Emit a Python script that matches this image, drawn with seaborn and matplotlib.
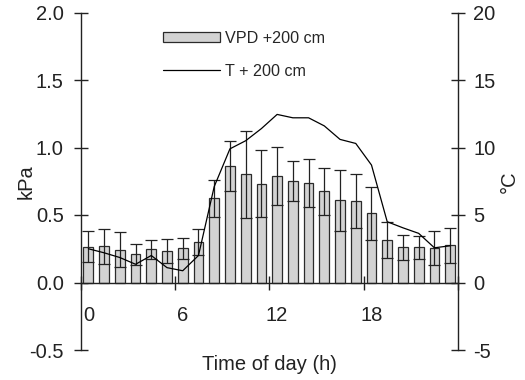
import numpy as np
import matplotlib
matplotlib.use("Agg")
import matplotlib.pyplot as plt
import seaborn as sns
from matplotlib.ticker import FixedLocator

# ---- data ----
hours = list(range(24))
vpd = [0.265, 0.27, 0.243, 0.21, 0.245, 0.233, 0.252, 0.30, 0.624, 0.861,
       0.802, 0.733, 0.79, 0.752, 0.738, 0.676, 0.609, 0.604, 0.512, 0.312,
       0.26, 0.262, 0.255, 0.275]
vpd_err = [0.115, 0.13, 0.131, 0.077, 0.072, 0.091, 0.08, 0.096, 0.138, 0.184,
           0.322, 0.245, 0.215, 0.151, 0.18, 0.173, 0.228, 0.203, 0.198, 0.134,
           0.094, 0.085, 0.124, 0.131]
temp = [2.5, 2.2, 1.85, 1.35, 2.0, 1.1, 0.87, 2.0, 7.1, 9.9,
        10.5, 11.4, 12.45, 12.2, 12.2, 11.6, 10.6, 10.3, 8.7, 4.5,
        4.05, 3.64, 2.57, 2.72]
x_tick_labels = ["0", "6", "12", "18"]
left_ticks = [-0.5, 0.0, 0.5, 1.0, 1.5, 2.0]
right_ticks = [-5, 0, 5, 10, 15, 20]

sns.set_style("ticks")
plt.rcParams["font.family"] = ["Liberation Sans", "DejaVu Sans"]
plt.rcParams["axes.unicode_minus"] = False

FS = 14.5
fig = plt.figure(figsize=(5.25, 3.8), dpi=100)
ax = fig.add_axes([80.5 / 525, 1 - 350 / 380, (458 - 80.5) / 525, (350 - 12.5) / 380])

xc = [h + 0.5 for h in hours]
sns.barplot(x=xc, y=vpd, native_scale=True, width=0.62, color="#d3d3d3",
            saturation=1, edgecolor="#2b2b2b", linewidth=0.9, errorbar=None,
            ax=ax, zorder=2)
ax.errorbar(xc, vpd, yerr=vpd_err, fmt="none", ecolor="#222222",
            elinewidth=0.9, capsize=4, capthick=0.9, zorder=3)

ax.set_xlim(0, 24)
ax.set_ylim(-0.5, 2.0)
ax.set_yticks(left_ticks)
ax.set_yticklabels([f"{v:.1f}" for v in left_ticks])

ax.spines["top"].set_visible(False)
ax.spines["bottom"].set_position(("data", 0))
for s in ["left", "right", "bottom"]:
    ax.spines[s].set_color("#222222")
    ax.spines[s].set_linewidth(1.0)
ax.spines["right"].set_visible(False)

ax.set_xticks([h + 0.5 for h in [0, 6, 12, 18]])
ax.set_xticklabels(x_tick_labels)
ax.xaxis.set_minor_locator(FixedLocator([0, 6, 12, 18, 24]))
ax.tick_params(axis="x", which="major", length=0, pad=17, labelsize=FS, colors="#222222")
ax.tick_params(axis="x", which="minor", direction="inout", length=10, width=1.0, color="#222222")
ax.tick_params(axis="y", direction="inout", length=10, width=1.0, pad=7,
               labelsize=FS, colors="#222222")

ax.set_ylabel("kPa", fontsize=FS, color="#222222")
ax.yaxis.set_label_coords(-0.12, 0.5)
ax.set_xlabel("Time of day (h)", fontsize=FS, color="#222222")
ax.xaxis.set_label_coords(0.5, -0.015)

ax2 = ax.twinx()
sns.lineplot(x=xc, y=temp, color="black", linewidth=0.9, ax=ax2, legend=False)
ax2.set_ylim(-5, 20)
ax2.set_yticks(right_ticks)
ax2.set_yticklabels([str(v) for v in right_ticks])
for s in ["top", "bottom", "left"]:
    ax2.spines[s].set_visible(False)
ax2.spines["right"].set_color("#222222")
ax2.spines["right"].set_linewidth(1.0)
ax2.tick_params(axis="y", direction="inout", length=10, width=1.0, pad=6,
                labelsize=FS, colors="#222222")
ax2.set_ylabel("°C", fontsize=FS, color="#222222")
ax2.yaxis.set_label_coords(1.111, 0.5)

handles = [ax.containers[0], ax2.lines[0]]
labels = ["VPD +200 cm", "T + 200 cm"]
ax2.legend(handles, labels, loc="upper left", bbox_to_anchor=(162.7 / 525, 1 - 31 / 380),
           bbox_transform=fig.transFigure, frameon=False, fontsize=11.6,
           handlelength=3.54, handleheight=0.6, handletextpad=0.3,
           labelspacing=1.1, borderpad=0, borderaxespad=0)

fig.savefig("out.png", dpi=100)
